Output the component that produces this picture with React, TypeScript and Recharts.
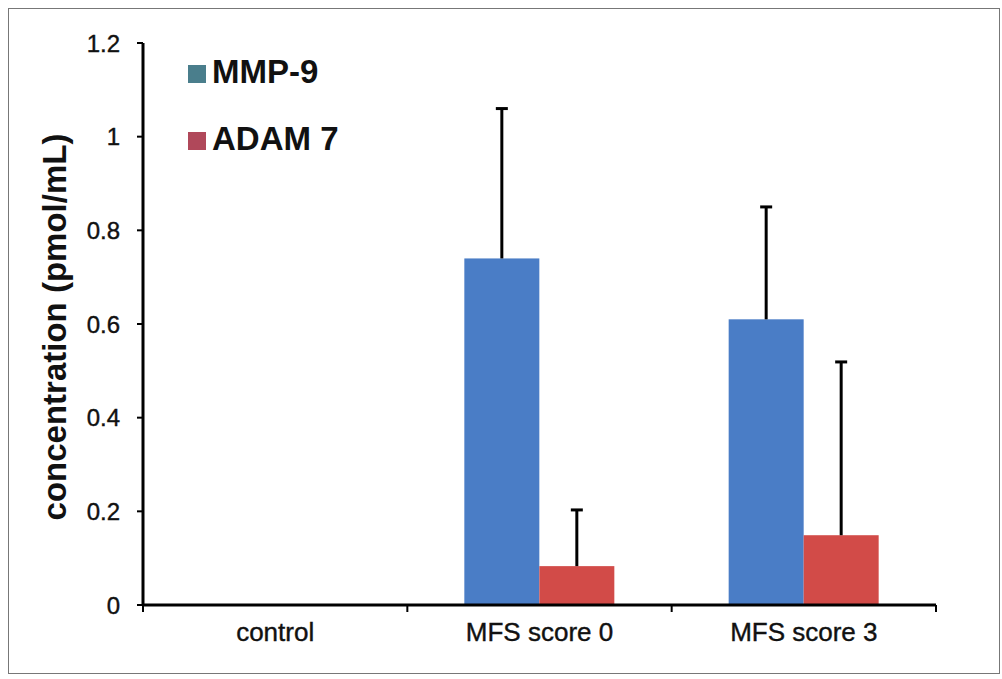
import { BarChart, Bar, XAxis, YAxis, Legend, Label } from 'recharts';

// values (pmol/mL), error = upper SD only
const categories = ['control', 'MFS score 0', 'MFS score 3'];
const mmp9 = [0, 0.74, 0.61];
const mmp9Err = [0, 0.32, 0.24];
const adam7 = [0, 0.083, 0.149];
const adam7Err = [0, 0.12, 0.37];
const yTicks = [0, 0.2, 0.4, 0.6, 0.8, 1, 1.2];

const seriesNames = ['MMP-9', 'ADAM 7'];
const barColors = ['#4A7DC6', '#D24B48'];
const legendColors = ['#4A7E8C', '#B0485A'];

const data = categories.map((name, i) => ({
    name,
    mmp9: mmp9[i],
    mmp9Err: mmp9Err[i],
    adam7: adam7[i],
    adam7Err: adam7Err[i],
}));

const FONT = '"Liberation Sans", Arial, sans-serif';
const CHART_W = 990;
const CHART_H = 664;
const MARGIN = { top: 34, right: 63, bottom: 0, left: 0 };
const Y_AXIS_W = 134;
const BAND = (CHART_W - MARGIN.left - MARGIN.right - Y_AXIS_W) / categories.length;

// bar with a one-sided (upper) error whisker
const withError = (valueKey: string, errKey: string) => (props: any) => {
    const { x, y, width, height, fill, payload } = props;
    const v = payload[valueKey];
    if (!v || height <= 0) return null;
    const pxPerUnit = height / v;
    const cx = x + width / 2;
    const top = y - payload[errKey] * pxPerUnit;
    return (
        <g>
            <rect x={x} y={y} width={width} height={height} fill={fill} />
            <line x1={cx} x2={cx} y1={y} y2={top} stroke="#000" strokeWidth={3} />
            <line x1={cx - 6} x2={cx + 6} y1={top} y2={top} stroke="#000" strokeWidth={3} />
        </g>
    );
};

// category label plus Excel-style tick marks on the band edges
const XTick = (props: any) => {
    const { x, y, payload, index } = props;
    const left = x - BAND / 2;
    return (
        <g>
            <line x1={left} x2={left} y1={y} y2={y + 7} stroke="#000" strokeWidth={2} />
            {index === categories.length - 1 && (
                <line x1={left + BAND} x2={left + BAND} y1={y} y2={y + 7} stroke="#000" strokeWidth={2} />
            )}
            <text
                x={x}
                y={y + 18}
                dy="0.71em"
                textAnchor="middle"
                fontFamily={FONT}
                fontSize={26}
                fill="#111"
                stroke="#111"
                strokeWidth={0.4}
            >
                {payload.value}
            </text>
        </g>
    );
};

const LegendBox = () => (
    <div style={{ fontFamily: FONT, fontWeight: 'bold', fontSize: 33, color: '#111' }}>
        {seriesNames.map((n, i) => (
            <div key={n} style={{ display: 'flex', alignItems: 'center', height: 67, lineHeight: '33px' }}>
                <span
                    style={{
                        display: 'inline-block',
                        width: 18,
                        height: 18,
                        background: legendColors[i],
                        marginRight: 6,
                        marginTop: 4,
                    }}
                />
                {n}
            </div>
        ))}
    </div>
);

export default function App() {
    return (
        <div
            style={{
                position: 'absolute',
                left: 8,
                top: 8,
                width: CHART_W,
                height: CHART_H,
                border: '1px solid #777',
                background: '#fff',
            }}
        >
            <BarChart width={CHART_W} height={CHART_H} data={data} margin={MARGIN} barGap={0}>
                <XAxis
                    dataKey="name"
                    height={68}
                    axisLine={{ stroke: '#000', strokeWidth: 3 }}
                    tickLine={false}
                    tickSize={0}
                    tickMargin={0}
                    tick={<XTick />}
                    interval={0}
                />
                <YAxis
                    width={Y_AXIS_W}
                    domain={[0, 1.2]}
                    ticks={yTicks}
                    interval={0}
                    axisLine={{ stroke: '#000', strokeWidth: 3 }}
                    tickLine={{ stroke: '#000', strokeWidth: 2 }}
                    tickSize={6}
                    tickMargin={17}
                    tick={{ fontFamily: FONT, fontSize: 24, fill: '#111', stroke: '#111', strokeWidth: 0.4 }}
                >
                    <Label
                        content={(p: any) => {
                            const vb = p.viewBox || { x: 0, y: MARGIN.top, height: 562 };
                            const cx = vb.x + 45;
                            const cy = vb.y + vb.height / 2 + 3;
                            return (
                                <text
                                    x={cx}
                                    y={cy}
                                    transform={`rotate(-90, ${cx}, ${cy})`}
                                    textAnchor="middle"
                                    dominantBaseline="central"
                                    fontFamily={FONT}
                                    fontWeight="bold"
                                    fontSize={33}
                                    fill="#111"
                                >
                                    concentration (pmol/mL)
                                </text>
                            );
                        }}
                    />
                </YAxis>
                <Legend
                    layout="vertical"
                    align="center"
                    verticalAlign="middle"
                    content={<LegendBox />}
                    wrapperStyle={{ left: 179, top: 29, width: 'auto', height: 'auto' }}
                />
                <Bar
                    dataKey="mmp9"
                    name={seriesNames[0]}
                    fill={barColors[0]}
                    barSize={75}
                    shape={withError('mmp9', 'mmp9Err')}
                    isAnimationActive={false}
                />
                <Bar
                    dataKey="adam7"
                    name={seriesNames[1]}
                    fill={barColors[1]}
                    barSize={75}
                    shape={withError('adam7', 'adam7Err')}
                    isAnimationActive={false}
                />
            </BarChart>
        </div>
    );
}
